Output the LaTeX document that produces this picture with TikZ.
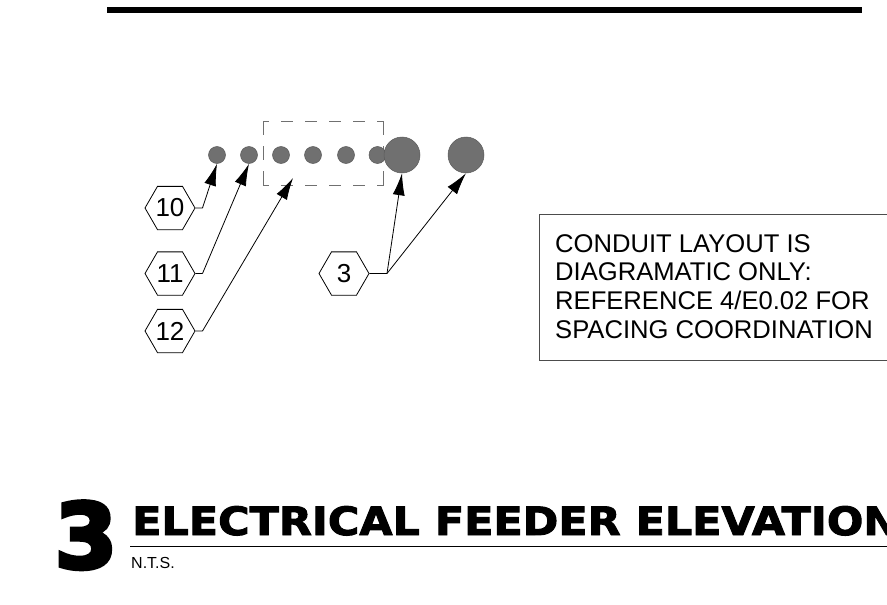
\documentclass[tikz,border=0pt]{standalone}
\usepackage{fontspec}
\setmainfont{Liberation Sans}
\newfontfamily\heavy[FakeBold=2.5,FakeStretch=1.1]{DejaVu Sans Bold}
\newfontfamily\heavyb[FakeBold=4.5]{DejaVu Sans Bold}
\usetikzlibrary{arrows.meta,shapes.geometric}
\definecolor{cond}{HTML}{707070}
\tikzset{
 pipe/.style={circle,draw=cond!80!black,line width=.5pt,fill=cond,inner sep=0pt,minimum size=#1},
 tag/.style={regular polygon,regular polygon sides=6,draw=black,line width=.8pt,inner sep=0pt,minimum size=50pt,font=\fontsize{26}{26}\selectfont,shape border rotate=0},
 lead/.style={draw=black,line width=.8pt},
 arr/.style={lead,-{Latex[length=22pt,width=12pt]}},
 notebox/.style={draw=black!70,line width=1pt,inner sep=0pt},
 hdash/.style={cond,line width=1pt,line cap=butt,dash pattern=on 12pt off 12pt,dash phase=6pt},
 vdash/.style={cond,line width=1pt,line cap=butt,dash pattern=on 14pt off 11pt}
}
\begin{document}
\begin{tikzpicture}[x=1pt,y=-1pt]
\useasboundingbox (0,0) rectangle (887,605);
\draw[line width=5.5pt] (107,10) -- (862,10);
\draw[hdash] (263,121) -- (384,121);
\draw[hdash] (263,185) -- (384,185);
\draw[vdash] (263.5,121) -- (263.5,185);
\draw[vdash] (383.5,121) -- (383.5,185);
\node[pipe=17pt] (a) at (217,155) {};
\node[pipe=17pt] (b) at (249,155) {};
\node[pipe=17pt] (c) at (281,155) {};
\node[pipe=17pt] (d) at (313,155) {};
\node[pipe=17pt] (e) at (346,155) {};
\node[pipe=17pt] (f) at (377.5,155) {};
\node[pipe=36pt] (g) at (402,155) {};
\node[pipe=36pt] (h) at (466,155) {};
\node[tag] (t10) at (170,208) {10};
\node[tag] (t11) at (170,273.5) {11};
\node[tag] (t12) at (170,331) {12};
\node[tag] (t3) at (344,273.5) {3};
\coordinate (k10) at (202.5,208);
\coordinate (k11) at (202.5,273.5);
\coordinate (k12) at (202.5,331);
\coordinate (k3) at (387,273.5);
\coordinate (p12) at (293,178);
\draw[lead] (t10.east) -- (k10);
\draw[lead] (t11.east) -- (k11);
\draw[lead] (t12.east) -- (k12);
\draw[lead] (t3.east) -- (k3);
\draw[arr] (k10) -- (a.south);
\draw[arr] (k11) -- (b.south);
\draw[arr] (k12) -- (p12);
\draw[arr] (k3) -- (g.south);
\draw[arr] (k3) -- (h.south);
\draw[notebox] (889,214) -- (539.5,214) -- (539.5,360) -- (889,360);
\node[anchor=north west,align=left,inner sep=0pt,font=\fontsize{25.6}{28.8}\selectfont] (note) at (555,234)
 {CONDUIT LAYOUT IS\\DIAGRAMATIC ONLY:\\REFERENCE 4/E0.02 FOR\\SPACING COORDINATION};
\node[anchor=base west,inner sep=0pt,font=\fontsize{39}{39}\heavy] (title) at (132,535) {ELECTRICAL FEEDER ELEVATION};
\node[anchor=base,inner sep=0pt,font=\fontsize{90}{90}\heavyb] (num) at (86,568) {3};
\draw[line width=1pt] (130,546.5) -- (887,546.5);
\node[anchor=base west,inner sep=0pt,font=\fontsize{16}{16}\selectfont] (nts) at (131,568) {N.T.S.};
\end{tikzpicture}
\end{document}
